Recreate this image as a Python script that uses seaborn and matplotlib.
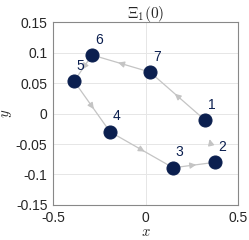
import numpy as np
import pandas as pd
import seaborn as sns
import matplotlib
matplotlib.use('Agg')
import matplotlib.pyplot as plt

# point data
labels = ['1', '2', '3', '4', '5', '6', '7']
xs = [0.322, 0.376, 0.149, -0.192, -0.386, -0.289, 0.024]
ys = [-0.011, -0.080, -0.089, -0.030, 0.053, 0.096, 0.068]
# path order of the loop (arrows go this way)
order = ['1', '7', '6', '5', '4', '3', '2', '1']

xticks = [-0.5, 0, 0.5]
yticks = [-0.15, -0.1, -0.05, 0, 0.05, 0.1, 0.15]
ytick_labels = ['-0.15', '-0.1', '-0.05', '0', '0.05', '0.1', '0.15']

sns.set_style('whitegrid')
plt.rcParams['font.family'] = ['Liberation Sans', 'DejaVu Sans']
plt.rcParams['mathtext.fontset'] = 'cm'

navy = '#0b1f4f'
lgray = '#c4c4c4'

df = pd.DataFrame({'label': labels, 'x': xs, 'y': ys})
path = df.set_index('label').loc[order].reset_index()

fig = plt.figure(figsize=(2.49, 2.40), dpi=100)
ax = fig.add_axes([0.213, 0.146, 0.743, 0.762])

sns.lineplot(data=path, x='x', y='y', sort=False, color=lgray, lw=0.9, ax=ax, zorder=2)

# arrow heads at segment midpoints
for i in range(len(path) - 1):
    x0, y0 = path.loc[i, 'x'], path.loc[i, 'y']
    x1, y1 = path.loc[i + 1, 'x'], path.loc[i + 1, 'y']
    mx, my = (x0 + x1) / 2, (y0 + y1) / 2
    ax.annotate('', xy=(mx + (x1 - x0) * 0.05, my + (y1 - y0) * 0.05),
                xytext=(mx - (x1 - x0) * 0.05, my - (y1 - y0) * 0.05),
                arrowprops=dict(arrowstyle='-|>', color=lgray, lw=0.9,
                                mutation_scale=9, shrinkA=0, shrinkB=0),
                zorder=2)

sns.scatterplot(data=df, x='x', y='y', s=88, color=navy, edgecolor=navy, ax=ax, zorder=3)

for _, r in df.iterrows():
    ax.annotate(r['label'], (r['x'], r['y']), xytext=(2, 6), textcoords='offset points',
                color=navy, fontsize=10, ha='left', va='bottom')

ax.set_xlim(-0.5, 0.5)
ax.set_ylim(-0.15, 0.15)
ax.set_xticks(xticks)
ax.set_xticklabels(['-0.5', '0', '0.5'])
ax.set_yticks(yticks)
ax.set_yticklabels(ytick_labels)
ax.tick_params(labelsize=10, direction='in', length=3, color='#555555')
ax.tick_params(axis='x', pad=4)
ax.tick_params(axis='y', pad=4)
ax.grid(True, color='#e6e6e6', lw=0.7)
for s in ax.spines.values():
    s.set_color('#888888')
    s.set_linewidth(0.8)

ax.set_xlabel(r'$x$', fontsize=10.5, labelpad=0)
ax.set_ylabel(r'$y$', fontsize=10.5, labelpad=1)
ax.set_title(r'$\Xi_1(0)$', fontsize=11, pad=3)

fig.savefig('out.png', dpi=100)
